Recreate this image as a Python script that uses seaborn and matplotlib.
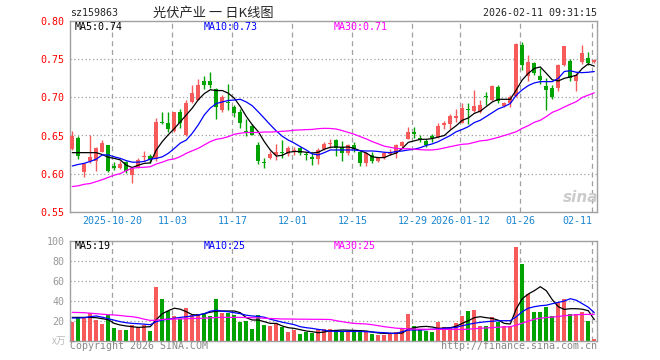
import matplotlib
matplotlib.use('Agg')
import matplotlib.pyplot as plt
import seaborn as sns
import pandas as pd
import numpy as np

# dados (88 pregões, 2025-10-09 .. 2026-02-11)
abertura = [.632, .647, .602, .616, .616, .629, .637, .610, .607, .615,
            .598, .609, .622, .623, .619, .668, .666, .656, .681, .651,
            .694, .697, .722, .722, .711, .683, .694, .688, .681, .656,
            .663, .638, .615, .621, .624, .629, .626, .630, .633, .625,
            .622, .619, .632, .639, .644, .635, .627, .637, .628, .614,
            .625, .616, .620, .626, .627, .636, .646, .654, .646, .643,
            .649, .648, .664, .665, .673, .667, .684, .682, .681, .702,
            .697, .714, .689, .692, .702, .769, .728, .745, .728, .715,
            .712, .712, .743, .748, .721, .746, .752, .747]
fechamento = [.650, .623, .613, .622, .634, .640, .604, .608, .613, .604,
              .607, .618, .623, .618, .668, .666, .658, .681, .666, .692,
              .706, .716, .716, .716, .688, .700, .692, .680, .666, .655,
              .651, .616, .614, .626, .629, .627, .634, .631, .627, .624,
              .619, .631, .639, .640, .634, .627, .637, .632, .614, .627,
              .616, .620, .627, .629, .637, .641, .654, .652, .645, .638,
              .647, .663, .666, .675, .675, .686, .683, .689, .690, .700,
              .715, .695, .692, .701, .770, .742, .747, .732, .723, .710,
              .701, .743, .767, .726, .730, .758, .745, .749]
maxima = [.656, .649, .614, .650, .635, .644, .638, .615, .616, .616,
          .607, .620, .630, .626, .673, .681, .681, .681, .685, .697,
          .716, .724, .728, .733, .712, .703, .717, .690, .685, .671,
          .665, .642, .621, .630, .639, .644, .636, .635, .635, .629,
          .628, .633, .642, .645, .646, .643, .639, .641, .630, .629,
          .628, .622, .628, .632, .639, .643, .661, .661, .650, .646,
          .652, .666, .669, .678, .685, .692, .692, .710, .697, .707,
          .716, .716, .694, .703, .772, .773, .755, .746, .738, .725,
          .716, .744, .768, .750, .732, .769, .759, .750]
minima = [.631, .619, .596, .614, .604, .628, .602, .605, .606, .601,
          .588, .608, .617, .614, .617, .665, .655, .655, .660, .649,
          .692, .696, .711, .712, .672, .681, .683, .674, .660, .649,
          .650, .612, .607, .619, .618, .620, .623, .625, .624, .618,
          .611, .612, .631, .634, .623, .616, .624, .628, .610, .610,
          .614, .615, .619, .624, .620, .634, .645, .647, .641, .635,
          .641, .647, .659, .659, .668, .666, .665, .681, .679, .690,
          .695, .692, .688, .688, .700, .736, .721, .730, .718, .683,
          .698, .708, .741, .721, .708, .744, .743, .745]
volume = [19, 23.7, 23.3, 27.3, 20.7, 16.7, 25.7, 13, 10.7, 10.7,
          15.7, 13.3, 15.7, 10, 53.7, 41.7, 30, 24.7, 21.3, 32.7,
          25.7, 26.3, 26.3, 24.7, 41.7, 27.3, 27.3, 25.7, 19, 20,
          11.7, 25.7, 15.7, 14.7, 17.3, 14, 9, 10.7, 6.7, 9,
          7.3, 11.7, 11.7, 11.7, 10, 10, 10, 10, 10.7, 9.3,
          6.7, 5.7, 5.7, 6.7, 8.3, 11.7, 26.7, 14.7, 11.3, 10,
          8.7, 18.7, 13.7, 13.3, 17.7, 24.7, 30, 30.7, 14.7, 14.7,
          23.7, 18.7, 14.7, 14.7, 94, 76.7, 46.7, 29, 29, 34,
          24.7, 39, 41.3, 26.7, 26.7, 29, 20, 2]

# médias móveis
ma5 = [.6275, .6275, .6275, .6275, .6275, .625, .6214, .620, .618, .611,
       .608, .611, .6135, .614, .631, .642, .651, .659, .668, .677,
       .686, .697, .705, .710, .709, .709, .7055, .699, .688, .675,
       .664, .655, .642, .631, .623, .624, .628, .629, .629, .628,
       .627, .628, .632, .6345, .635, .6345, .635, .633, .630, .627,
       .622, .621, .621, .6245, .627, .633, .641, .643, .645, .645,
       .646, .648, .650, .657, .663, .670, .673, .679, .682, .688,
       .694, .6975, .6975, .6975, .710, .723, .7316, .738, .740, .7316,
       .723, .7216, .725, .727, .729, .738, .744, .741]
ma10 = [.610, .612, .6135, .616, .619, .6245, .6245, .622, .620, .617,
        .615, .615, .616, .619, .620, .622, .6266, .633, .640, .644,
        .653, .664, .677, .686, .692, .694, .696, .6966, .6975, .694,
        .689, .681, .6726, .664, .656, .649, .644, .640, .6354, .631,
        .6258, .6245, .6275, .631, .631, .631, .631, .631, .630, .6297,
        .6297, .629, .628, .6275, .629, .6297, .631, .632, .634, .637,
        .639, .642, .646, .650, .655, .658, .6616, .667, .670, .675,
        .680, .685, .688, .692, .703, .710, .7155, .719, .7207, .7207,
        .7207, .725, .734, .735, .733, .7325, .733, .734]
ma30 = [.583, .584, .586, .587, .5895, .592, .595, .598, .600, .604,
        .607, .608, .6083, .609, .6126, .615, .618, .6192, .6223, .6266,
        .630, .6332, .6376, .642, .645, .6463, .6485, .6516, .653, .654,
        .654, .654, .6546, .6546, .655, .6555, .656, .657, .6573, .6577,
        .658, .659, .6594, .6592, .6585, .6564, .654, .6516, .6485, .6455,
        .642, .639, .636, .6345, .633, .6326, .6326, .632, .6314, .631,
        .631, .632, .6336, .6354, .637, .6385, .639, .641, .643, .6437,
        .6455, .6476, .650, .6524, .655, .6594, .663, .6673, .670, .6748,
        .6804, .6835, .6874, .691, .6944, .700, .703, .706]
vma5 = [23.3, 23.3, 23.3, 23.3, 23, 22, 21, 17.3, 15.7, 14.7,
        14, 13.3, 13.7, 14, 21, 27, 30, 32.5, 31.5, 29,
        26, 25.7, 27, 28.5, 29.5, 29.7, 29.7, 29.7, 28, 23,
        20.7, 20.7, 19, 17.3, 17.3, 14.7, 13, 12.3, 11, 9.7,
        9, 8, 8.7, 10, 10.3, 10.7, 10.5, 10.3, 10, 9.7,
        8.7, 7.7, 7.3, 7.3, 7.3, 7.7, 11.5, 13, 14, 14.3,
        13.7, 12.3, 12.7, 13, 14.5, 17.3, 20, 23, 24, 23,
        22.3, 20.5, 17.3, 16.7, 32, 42, 46.7, 50, 54, 50,
        41, 34, 31.3, 32, 32, 31.5, 30, 21]
vma10 = [22.7, 22.7, 23, 24, 24.7, 23.5, 22, 20.5, 19, 18,
         17.3, 17, 16.5, 16, 19, 20.7, 21.5, 22.5, 23.3, 24,
         24.7, 25.7, 27, 29.5, 30.5, 29.5, 29, 28, 27, 25.5,
         24.7, 24.3, 23.5, 21.5, 20, 18.5, 17.3, 16, 14, 13,
         12.3, 11.3, 10.5, 9.5, 9.3, 9.3, 9.3, 9.3, 9.3, 9,
         8.7, 8.3, 8, 7.5, 7.3, 9, 10.7, 10.7, 10.7, 11,
         11.5, 11.7, 12.3, 12.7, 13.3, 15, 16.3, 17.5, 18.3, 19,
         19.5, 20, 20, 20, 24, 29, 32.5, 34, 35, 35.5,
         37, 38.3, 39.7, 42, 40.5, 37, 33.5, 28]
vma30 = [28.3, 28.2, 28, 27.5, 27, 26.5, 26, 25.7, 25.2, 24.5,
         24, 23, 21.5, 20.3, 20.5, 21.3, 21.5, 21.7, 21.8, 22,
         22.2, 22.3, 22.5, 22.8, 23.2, 23.3, 23.3, 23.3, 23.3, 23.2,
         23, 22.8, 22.5, 22.2, 22, 21.7, 21.7, 21.6, 21.5, 21.5,
         21.4, 21.4, 21.3, 21.2, 20, 19, 18, 17.3, 17, 16.7,
         16, 15, 14, 13.3, 12.5, 12.2, 11.8, 11.6, 11.5, 11.4,
         11.3, 11.3, 11.3, 11.3, 11.3, 11.3, 11.5, 12, 12.4, 12.8,
         13.1, 13.5, 13.8, 14, 15.5, 17.5, 19.5, 21.5, 22.5, 23.2,
         23.6, 24.2, 25, 25.5, 26, 26.3, 26.3, 26.3]

datas_idx = [7, 17, 27, 37, 47, 57, 65, 75, 87]
datas_lbl = ['2025-10-20', '11-03', '11-17', '12-01', '12-15',
             '12-29', '2026-01-12', '01-26', '02-11']

df = pd.DataFrame({'Abertura': abertura, 'Fechamento': fechamento,
                   'Max': maxima, 'Min': minima, 'Volume': volume,
                   'MA5': ma5, 'MA10': ma10, 'MA30': ma30,
                   'VMA5': vma5, 'VMA10': vma10, 'VMA30': vma30})
df['x'] = np.arange(len(df))

sns.set_style('white')
plt.rcParams['font.family'] = ['DejaVu Sans Mono', 'Noto Sans CJK SC']

VERM = '#f65a5a'
VERDE = '#00a300'
CINZA = '#a0a0a0'
AZUL_DATA = '#1a86cf'

cores = [VERM if c >= o else VERDE for o, c in zip(df['Abertura'], df['Fechamento'])]

W, H = 660, 360
fig = plt.figure(figsize=(6.6, 3.6), dpi=100)
ax = fig.add_axes([70 / W, 1 - 211.7 / H, 527 / W, (211.7 - 21.2) / H])
axv = fig.add_axes([70 / W, 1 - 340.7 / H, 527 / W, 100 / H])

xmin, xmax = -0.38, 87.45
grid_x = [i - 1 / 3 for i in datas_idx]

for a in (ax, axv):
    a.set_xlim(xmin, xmax)
    for g in grid_x:
        a.axvline(g, color=CINZA, lw=0.9, ls=(0, (4, 3)), zorder=0)
    for s in a.spines.values():
        s.set_color(CINZA)
        s.set_linewidth(1)
    a.tick_params(length=0)

# painel de preços
ax.set_ylim(0.55, 0.80)
for yv in [0.60, 0.65, 0.70, 0.75]:
    ax.axhline(yv, color=CINZA, lw=0.9, ls=(0, (1, 2)), zorder=0)

ax.vlines(df['x'], df['Min'], df['Max'], colors=cores, lw=1, zorder=2)
corpo = np.maximum((df['Fechamento'] - df['Abertura']).abs(), 0.0014)
base = np.minimum(df['Fechamento'], df['Abertura'])
ax.bar(df['x'], corpo, bottom=base, width=0.72, color=cores, linewidth=0, zorder=3)

sns.lineplot(data=df, x='x', y='MA5', ax=ax, color='black', lw=0.9, zorder=4)
sns.lineplot(data=df, x='x', y='MA10', ax=ax, color='#0000ff', lw=0.9, zorder=4)
sns.lineplot(data=df, x='x', y='MA30', ax=ax, color='#ff00ff', lw=0.9, zorder=4)

ax.set_yticks([0.55, 0.60, 0.65, 0.70, 0.75, 0.80])
ax.set_yticklabels(['0.55', '0.60', '0.65', '0.70', '0.75', '0.80'],
                   color='red', fontsize=7.2)
ax.set_xticks(grid_x)
ax.set_xticklabels(datas_lbl, color=AZUL_DATA, fontsize=7.2)
# o último rótulo fica encostado à direita, como no original
ax.get_xticklabels()[-1].set_horizontalalignment('right')
ax.tick_params(axis='y', pad=4)
ax.tick_params(axis='x', pad=3)
ax.set_xlabel('')
ax.set_ylabel('')

# painel de volume
axv.set_ylim(0, 100)
for yv in [20, 40, 60, 80]:
    axv.axhline(yv, color=CINZA, lw=0.9, ls=(0, (1, 2)), zorder=0)
axv.bar(df['x'], df['Volume'], width=0.72, color=cores, linewidth=0, zorder=2)
sns.lineplot(data=df, x='x', y='VMA5', ax=axv, color='black', lw=0.9, zorder=4)
sns.lineplot(data=df, x='x', y='VMA10', ax=axv, color='#0000ff', lw=0.9, zorder=4)
sns.lineplot(data=df, x='x', y='VMA30', ax=axv, color='#ff00ff', lw=0.9, zorder=4)
axv.set_yticks([20, 40, 60, 80, 100])
axv.set_yticklabels(['20', '40', '60', '80', '100'], color='#999999', fontsize=7.2)
axv.set_xticks([])
axv.tick_params(axis='y', pad=4)
axv.set_xlabel('')
axv.set_ylabel('')

# textos
fs = 7.2
fig.text(70 / W, 1 - 13 / H, 'sz159863', fontsize=fs, va='center', ha='left')
fig.text(213 / W, 1 - 13 / H, '光伏产业 一 日K线图', fontsize=9.5, va='center', ha='center',
         family=['Noto Sans CJK SC', 'DejaVu Sans'])
fig.text(597 / W, 1 - 13 / H, '2026-02-11 09:31:15', fontsize=fs, va='center', ha='right')

fig.text(75 / W, 1 - 27 / H, 'MA5:0.74', fontsize=fs, va='center', color='black')
fig.text(204 / W, 1 - 27 / H, 'MA10:0.73', fontsize=fs, va='center', color='#0000ff')
fig.text(334 / W, 1 - 27 / H, 'MA30:0.71', fontsize=fs, va='center', color='#ff00ff')

fig.text(75 / W, 1 - 246 / H, 'MA5:19', fontsize=fs, va='center', color='black')
fig.text(204 / W, 1 - 246 / H, 'MA10:25', fontsize=fs, va='center', color='#0000ff')
fig.text(334 / W, 1 - 246 / H, 'MA30:25', fontsize=fs, va='center', color='#ff00ff')

fig.text(66 / W, 1 - 341 / H, 'x万', fontsize=7, va='center', ha='right', color='#bbbbbb',
         family=['Noto Sans CJK SC', 'DejaVu Sans'])
fig.text(70 / W, 1 - 346 / H, 'Copyright 2026 SINA.COM', fontsize=fs, va='center', color='#888888')
fig.text(597 / W, 1 - 346 / H, 'http://finance.sina.com.cn', fontsize=fs, va='center',
         ha='right', color='#888888')

fig.text(581 / W, 1 - 197 / H, 'sina', fontsize=11, va='center', ha='center', color='#cccccc',
         style='italic', weight='bold', family='DejaVu Sans')

fig.savefig('out.png', dpi=100)
